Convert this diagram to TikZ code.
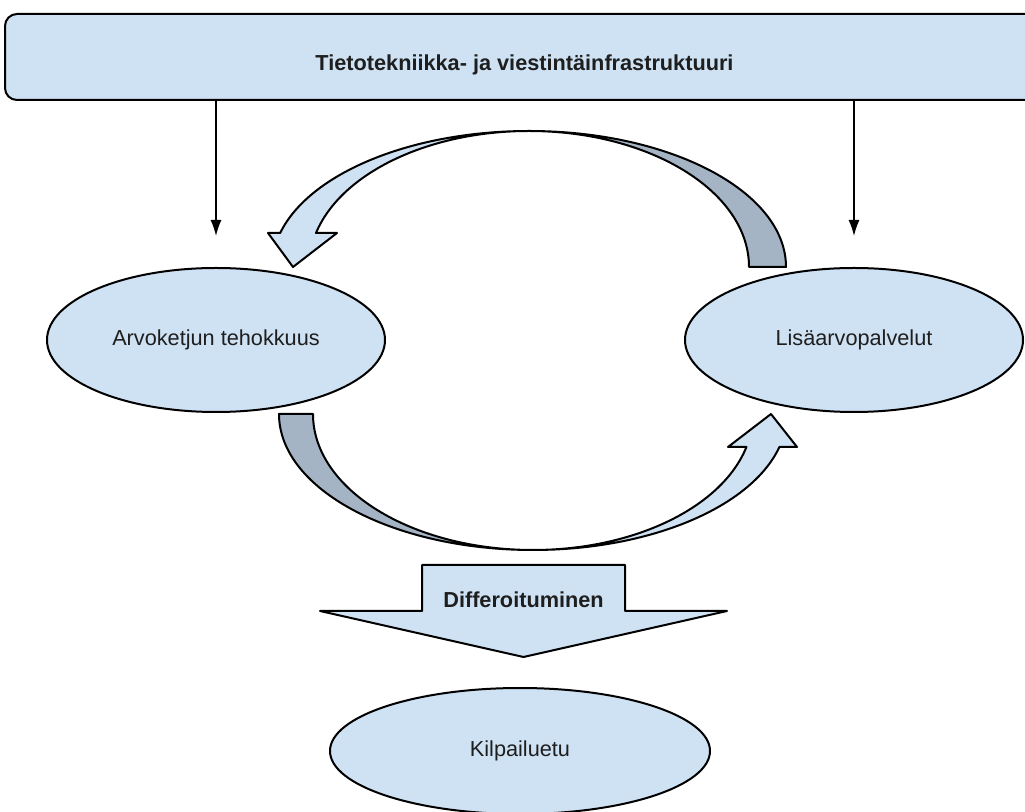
\documentclass[tikz,border=0pt]{standalone}
\usepackage{fontspec}
\setmainfont{Liberation Sans}
\usetikzlibrary{arrows.meta,shapes.geometric,calc}
\definecolor{lightfill}{RGB}{207,226,243}
\definecolor{darkfill}{RGB}{164,180,197}
\definecolor{txt}{RGB}{30,30,30}
\newcommand{\lowtxt}[1]{\raisebox{-4pt}{#1}}
\begin{document}
\begin{tikzpicture}[x=1pt,y=1pt,
  every node/.style={text=txt,font=\fontsize{21.7}{26}\selectfont},
  ellnode/.style={ellipse,draw=black,line width=2pt,fill=lightfill,inner sep=0pt},
  shapeline/.style={draw=black,line width=2pt,line join=round},
  conn/.style={draw=black,line width=1.5pt,-{Latex[length=16pt,width=11pt]}}]
\useasboundingbox (0,0) rectangle (1025,811);
\clip (0,0) rectangle (1025,811);
\fill[white] (0,0) rectangle (1025,811);

% top box
\node[draw=black,line width=2pt,fill=lightfill,rounded corners=12pt,
      minimum width=1039pt,minimum height=86pt,inner sep=0pt] (tbox) at (524.5,754) {};
\node[font=\bfseries\fontsize{21.7}{26}\selectfont] (title) at (524.5,746) {Tietotekniikka- ja viestintäinfrastruktuuri};

% ellipses
\node[ellnode,minimum width=338pt,minimum height=144pt] (L) at (216,471) {\lowtxt{Arvoketjun tehokkuus}};
\node[ellnode,minimum width=338pt,minimum height=144pt] (R) at (854,471) {\lowtxt{Lisäarvopalvelut}};
\node[ellnode,minimum width=380pt,minimum height=126pt] (K) at (520,60) {\lowtxt{Kilpailuetu}};

% connectors from top box
\draw[conn] (tbox.south -| L.north) -- ([yshift=31pt]L.north);
\draw[conn] (tbox.south -| R.north) -- ([yshift=31pt]R.north);

% top curved arrow (right -> left)
\filldraw[shapeline,fill=darkfill] (786,544)
  arc[start angle=0,end angle=90,x radius=257pt,y radius=136pt]
  arc[start angle=90,end angle=0,x radius=220pt,y radius=136pt] -- cycle;
\filldraw[shapeline,fill=lightfill] (529,680)
  arc[start angle=90,end angle=165.5,x radius=257pt,y radius=136pt]
  -- (268,578) -- (293,544) -- (337,578)
  -- ([shift={(529pt,544pt)}]165.5:220pt and 136pt)
  arc[start angle=165.5,end angle=90,x radius=220pt,y radius=136pt] -- cycle;

% bottom curved arrow (left -> right)
\filldraw[shapeline,fill=darkfill] (279,397)
  arc[start angle=180,end angle=270,x radius=254pt,y radius=136pt]
  arc[start angle=270,end angle=180,x radius=220pt,y radius=136pt] -- cycle;
\filldraw[shapeline,fill=lightfill] (533,261)
  arc[start angle=270,end angle=345.96,x radius=254pt,y radius=136pt]
  -- (797,364) -- (771,397) -- (728,364)
  -- ([shift={(533pt,397pt)}]345.96:220pt and 136pt)
  arc[start angle=345.96,end angle=270,x radius=220pt,y radius=136pt] -- cycle;

% Differoituminen block arrow
\filldraw[shapeline,fill=lightfill] (422,246) -- (625,246) -- (625,200) -- (727,200)
  -- (523.5,154) -- (320,200) -- (422,200) -- cycle;
\node[font=\bfseries\fontsize{21.7}{26}\selectfont] (diff) at (523.5,211) {Differoituminen};
\end{tikzpicture}
\end{document}
